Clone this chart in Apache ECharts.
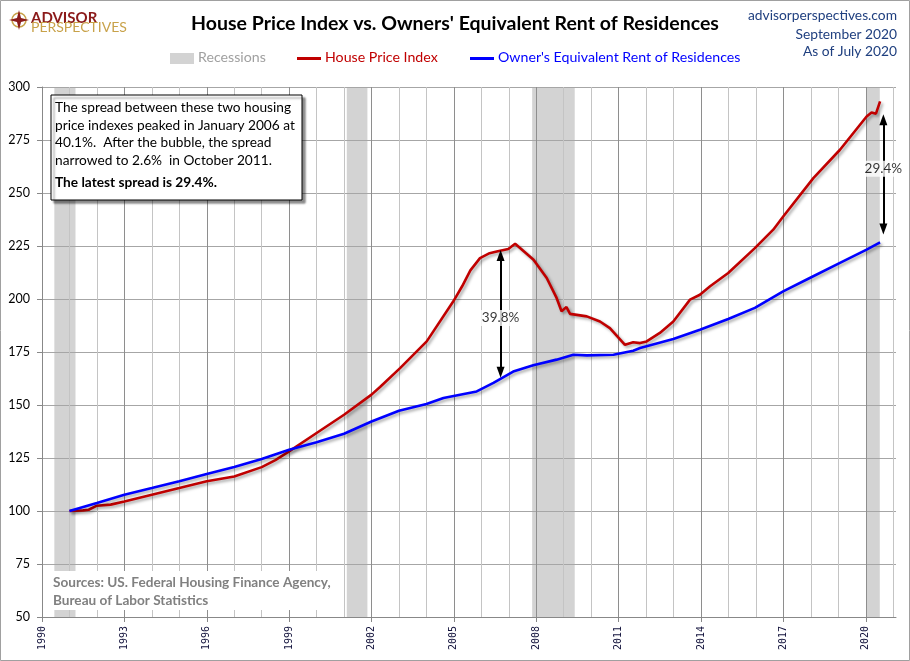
<!DOCTYPE html>
<html>
<head>
<meta charset="utf-8">
<title>House Price Index vs. Owners' Equivalent Rent of Residences</title>
<script src="https://cdn.jsdelivr.net/npm/echarts@6/dist/echarts.min.js"></script>
<style>
    html, body { margin: 0; padding: 0; background: #fff; }
    #main { width: 910px; height: 661px; }
</style>
</head>
<body>
<div id="main"></div>
<script>
// House Price Index (FHFA), Jan 1991 = 100 as [year, value]
var hpiYears = [1991.0, 1991.5, 1991.7, 1992.0, 1992.5, 1993.0, 1994.0, 1995.0, 1996.0, 1997.0,
    1998.0, 1998.5, 1999.0, 2000.0, 2001.0, 2002.0, 2002.31, 2003.04, 2004.01, 2004.98,
    2005.3, 2005.6, 2005.95, 2006.3, 2006.56, 2006.98, 2007.23, 2007.9, 2008.38, 2008.74, 2008.92, 2009.1,
    2009.23, 2009.84, 2010.32, 2010.68, 2011.23, 2011.53, 2011.78, 2012.02, 2012.5, 2012.99,
    2013.6, 2013.96, 2014.33, 2014.99, 2015.96, 2016.63, 2017.0, 2018.09, 2019.06, 2020.03,
    2020.21, 2020.37, 2020.52];
var hpiValues = [100, 100.3, 100.6, 102.5, 103, 104.5, 107.7, 110.8, 114, 116.3,
    120.7, 124, 128.1, 136.8, 145.4, 154.9, 158.5, 167.4, 180, 198.9,
    206, 213.5, 219.3, 221.6, 222.4, 223.6, 226.1, 218.5, 209.9, 200.5, 194.2, 196.2,
    193, 191.8, 189.4, 186.3, 178.4, 179.6, 179.2, 180, 184, 189.4,
    199.7, 202, 206, 212.3, 224, 232.7, 239, 257, 270.4, 286.1,
    288, 287.4, 293.2];

// Owners' Equivalent Rent of Residences (BLS), Jan 1991 = 100
var oerYears = [1991.0, 1992.0, 1993.0, 1994.0, 1995.0, 1996.0, 1997.0, 1998.0, 1999.0, 2000.0,
    2001.0, 2002.0, 2003.0, 2004.0, 2004.62, 2005.83, 2006.44, 2007.16, 2007.89, 2008.74,
    2009.35, 2009.84, 2010.81, 2011.53, 2011.78, 2012.99, 2013.96, 2014.99, 2015.96, 2016.99,
    2017.96, 2019.06, 2020.03, 2020.52];
var oerValues = [100, 103.8, 107.7, 110.8, 114, 117.5, 120.75, 124.5, 128.9, 132.4,
    136.45, 142.2, 147.3, 150.5, 153.3, 156.4, 160.4, 165.8, 168.7, 171.4,
    173.7, 173.4, 173.7, 175.6, 176.9, 181.1, 185.5, 190.6, 195.8, 203.6,
    209.9, 217, 223.3, 226.7];

// recessions (shaded), as fractional years
var recessionStart = [1990.45, 2001.1, 2007.85, 2020.03];
var recessionEnd = [1991.22, 2001.85, 2009.4, 2020.51];

// spread arrows: year, HPI end, OER end, label and where the label sits
var spreadYears = [2006.7, 2020.64];
var spreadHigh = [220.5, 284.5];
var spreadLow = [165.5, 233];
var spreadLabelAt = [191, 261.4];
var spreadLabels = ['39.8%', '29.4%'];

var xTickYears = [1990, 1993, 1996, 1999, 2002, 2005, 2008, 2011, 2014, 2017, 2020];
var yMin = 50, yMax = 300, yStep = 25;
var xMin = 1990, xMax = 2021.1;

var FONT = 'Lato, "Open Sans", sans-serif';

function zip(a, b) {
    var out = [];
    for (var i = 0; i < a.length; i++) out.push([a[i], b[i]]);
    return out;
}

var myChart = echarts.init(document.getElementById('main'));

var arrowData = [];
var arrowLabelData = [];
for (var i = 0; i < spreadYears.length; i++) {
    arrowData.push([{coord: [spreadYears[i], spreadHigh[i]]}, {coord: [spreadYears[i], spreadLow[i]]}]);
    arrowLabelData.push([spreadYears[i], spreadLabelAt[i], spreadLabels[i]]);
}

var lineShadow = {shadowColor: 'rgba(0,0,0,0.35)', shadowBlur: 3, shadowOffsetX: 2, shadowOffsetY: 2};

// legend drawn by hand (Excel style: box for recessions, plain line for series)
var legendItems = [
    {x: 170, kind: 'box', color: '#d3d3d3', text: 'Recessions', textColor: '#a0a0a0'},
    {x: 297, kind: 'line', color: '#c00000', text: 'House Price Index', textColor: '#c00000'},
    {x: 470, kind: 'line', color: '#0000ff', text: "Owner's Equivalent Rent of Residences", textColor: '#0000ff'}
];
var legendGraphic = [];
legendItems.forEach(function (it) {
    if (it.kind === 'box') {
        legendGraphic.push({type: 'rect', z: 100, shape: {x: it.x, y: 53, width: 24, height: 11}, style: {fill: it.color}});
    } else {
        legendGraphic.push({type: 'line', z: 100, shape: {x1: it.x, y1: 58.5, x2: it.x + 24, y2: 58.5},
            style: {stroke: it.color, lineWidth: 3}});
    }
    legendGraphic.push({type: 'text', z: 100, left: it.x + 28, top: 50,
        style: {text: it.text, font: '14.2px ' + FONT, fill: it.textColor}});
});

var option = {
    animation: false,
    backgroundColor: '#fff',
    title: {
        text: "House Price Index vs. Owners' Equivalent Rent of Residences",
        left: 'center',
        top: 9,
        textStyle: {fontFamily: FONT, fontSize: 19.5, fontWeight: 'bold', color: '#000'}
    },
    grid: {left: 42, right: 14, top: 87, bottom: 44},
    xAxis: [
        {
            type: 'value',
            min: xMin,
            max: xMax,
            interval: 1,
            position: 'bottom',
            z: 1,
            axisLine: {lineStyle: {color: '#888'}},
            axisTick: {show: true, length: 5, customValues: xTickYears, lineStyle: {color: '#888'}},
            axisLabel: {
                customValues: xTickYears,
                rotate: 90,
                margin: 9,
                fontFamily: '"DejaVu Sans Mono", monospace',
                fontSize: 10,
                color: '#10103a',
                formatter: function (v) { return String(v); }
            },
            splitLine: {show: false}
        },
        {
            // yearly grid lines, darker every third year
            type: 'value',
            min: xMin,
            max: xMax,
            interval: 1,
            position: 'bottom',
            z: 1,
            axisLine: {show: false},
            axisTick: {show: false},
            axisLabel: {show: false},
            splitLine: {
                show: true,
                showMaxLine: false,
                lineStyle: {color: ['#8e8e8e', '#c4c4c4', '#c4c4c4'], width: 1}
            }
        }
    ],
    yAxis: {
        type: 'value',
        min: yMin,
        max: yMax,
        interval: yStep,
        z: 1,
        axisLine: {show: true, lineStyle: {color: '#888'}},
        axisTick: {show: true, length: 5, lineStyle: {color: '#888'}},
        axisLabel: {fontFamily: FONT, fontSize: 12.5, color: '#000', margin: 12},
        splitLine: {lineStyle: {color: '#a6a6a6'}}
    },
    series: [
        {
            name: 'Recessions',
            type: 'custom',
            z: 0,
            itemStyle: {color: '#d3d3d3'},
            encode: {x: [0, 1]},
            data: zip(recessionStart, recessionEnd),
            renderItem: function (params, api) {
                var p0 = api.coord([api.value(0), yMax]);
                var p1 = api.coord([api.value(1), yMin]);
                return {
                    type: 'rect',
                    shape: {x: p0[0], y: p0[1], width: p1[0] - p0[0], height: p1[1] - p0[1]},
                    style: {fill: '#d3d3d3'}
                };
            }
        },
        {
            name: 'House Price Index',
            type: 'line',
            z: 3,
            showSymbol: false,
            symbol: 'none',
            color: '#c00000',
            lineStyle: Object.assign({color: '#c00000', width: 2.6}, lineShadow),
            data: zip(hpiYears, hpiValues),
            markLine: {
                silent: true,
                symbol: ['triangle', 'triangle'],
                symbolSize: [8, 11],
                label: {show: false},
                lineStyle: {color: '#000', width: 2, type: 'solid'},
                data: arrowData
            }
        },
        {
            name: "Owner's Equivalent Rent of Residences",
            type: 'line',
            z: 3,
            showSymbol: false,
            symbol: 'none',
            color: '#0000ff',
            lineStyle: Object.assign({color: '#0000ff', width: 2.6}, lineShadow),
            data: zip(oerYears, oerValues)
        },
        {
            name: 'spread',
            type: 'scatter',
            z: 6,
            symbolSize: 0,
            silent: true,
            data: arrowLabelData,
            label: {
                show: true,
                position: 'inside',
                formatter: function (p) { return p.value[2]; },
                backgroundColor: '#fff',
                padding: [1, 1],
                fontFamily: FONT,
                fontSize: 13.5,
                color: '#000'
            }
        }
    ],
    graphic: [
        // outer frame
        {type: 'rect', z: 100, silent: true, shape: {x: 0.5, y: 0.5, width: 909, height: 660},
            style: {fill: 'none', stroke: '#a0a0a0', lineWidth: 1}},
        // logo
        {type: 'circle', z: 100, shape: {cx: 19, cy: 20, r: 7}, style: {fill: 'none', stroke: '#c8a24a', lineWidth: 1.5}},
        {type: 'polygon', z: 101, shape: {points: [[19, 10], [21, 18], [29, 20], [21, 22], [19, 30], [17, 22], [9, 20], [17, 18]]},
            style: {fill: '#8b1a1a'}},
        {type: 'text', z: 100, left: 31, top: 11,
            style: {text: 'ADVISOR', font: 'bold 15px ' + FONT, fill: '#8b1a1a'}},
        {type: 'text', z: 100, left: 31, top: 20,
            style: {text: 'PERSPECTIVES', font: '14px ' + FONT, fill: '#c8a24a'}},
        // top right
        {type: 'text', z: 100, right: 13, top: 9,
            style: {text: 'advisorperspectives.com', font: '13.8px ' + FONT, fill: '#1f3f7f'}},
        {type: 'text', z: 100, right: 13, top: 28,
            style: {text: 'September 2020', font: '13.8px ' + FONT, fill: '#1f3f7f'}},
        {type: 'text', z: 100, right: 13, top: 45,
            style: {text: 'As of July 2020', font: '13.8px ' + FONT, fill: '#1f3f7f'}},
        // annotation box
        {type: 'rect', z: 100, shape: {x: 51, y: 95, width: 251, height: 105},
            style: {fill: '#fff', stroke: '#000', lineWidth: 1,
                shadowColor: 'rgba(0,0,0,0.45)', shadowBlur: 2, shadowOffsetX: 3, shadowOffsetY: 3}},
        {type: 'text', z: 101, left: 55, top: 99,
            style: {text: 'The spread between these two housing\nprice indexes peaked in January 2006 at\n40.1%.  After the bubble, the spread\nnarrowed to 2.6%  in October 2011.',
                font: '13.7px ' + FONT, fill: '#000', lineHeight: 17.5}},
        {type: 'text', z: 101, left: 55, top: 176,
            style: {text: 'The latest spread is 29.4%.', font: 'bold 13.7px ' + FONT, fill: '#000'}},
        // sources
        {type: 'rect', z: 100, shape: {x: 47, y: 571, width: 287, height: 39}, style: {fill: '#fff'}},
        {type: 'text', z: 101, left: 53, top: 574,
            style: {text: 'Sources: US. Federal Housing Finance Agency,\nBureau of Labor Statistics',
                font: 'bold 13.6px ' + FONT, fill: '#808080', lineHeight: 18}}
    ].concat(legendGraphic)
};

myChart.setOption(option);
</script>
</body>
</html>
